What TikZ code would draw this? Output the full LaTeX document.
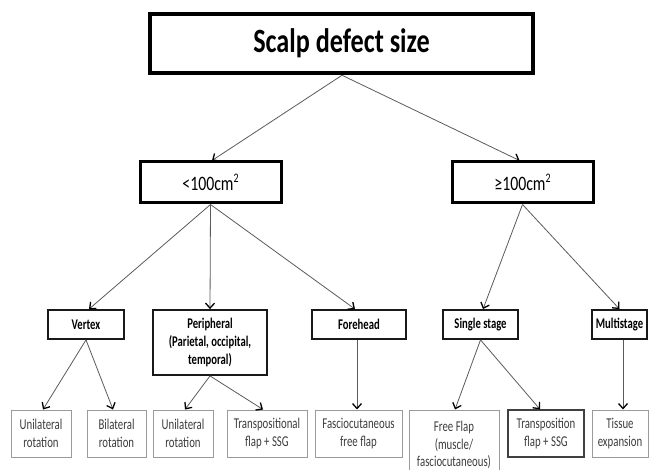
\documentclass[tikz,border=0pt]{standalone}
\usepackage{fontspec}
\usetikzlibrary{arrows.meta}
\newfontfamily\cfa[FakeStretch=0.77]{Carlito}
\newfontfamily\cfb[FakeStretch=0.72]{Carlito}
\definecolor{linegray}{HTML}{5A5A5A}
\definecolor{boxgray}{HTML}{9A9A9A}
\definecolor{txtgray}{HTML}{3C3C3C}
\newcommand{\supx}[1]{\raisebox{0.42em}{\fontsize{13}{13}\selectfont #1}}
\tikzset{
  lvltop/.style={draw=black, line width=4.5pt, minimum width=383pt, minimum height=59pt, inner sep=0pt,
    font=\cfa\bfseries\fontsize{34}{38}\selectfont},
  lvltwo/.style={draw=black, line width=3pt, minimum width=141pt, minimum height=41pt, inner sep=0pt,
    font=\cfa\fontsize{20.5}{24}\selectfont},
  lvlthree/.style={draw=black!90, line width=1.8pt, minimum height=29pt, inner sep=0pt, align=center,
    font=\cfb\bfseries\fontsize{14.8}{18}\selectfont},
  leafbox/.style={draw=boxgray, line width=1pt, minimum height=47pt, inner sep=0pt, align=center,
    text=txtgray, font=\cfb\fontsize{15}{17.5}\selectfont},
  conn/.style={draw=linegray, line width=0.8pt, -{Straight Barb[length=5pt,width=9pt,line width=1.3pt,color=black]}},
}
\begin{document}
\begin{tikzpicture}[x=1pt,y=-1pt]
\useasboundingbox (0,0) rectangle (652,470);
\clip (0,0) rectangle (652,470);
% nodes
\node[lvltop] (top) at (341.5,43.5) {Scalp defect size};
\node[lvltwo] (lt) at (210.5,182.5) {<100cm\supx{2}};
\node[lvltwo] (ge) at (522.5,182.5) {≥100cm\supx{2}};
\node[lvlthree, minimum width=76pt] (vertex) at (86,324.5) {Vertex};
\node[lvlthree, minimum width=114pt, minimum height=65pt] (periph) at (210,342.5) {Peripheral\\(Parietal, occipital,\\temporal)};
\node[lvlthree, minimum width=94pt] (forehead) at (359,324.5) {Forehead};
\node[lvlthree, minimum width=75pt] (single) at (480.5,324.5) {Single stage};
\node[lvlthree, minimum width=55pt] (multi) at (619.5,324.5) {Multistage};
\node[leafbox, minimum width=60pt] (b1) at (41,433.5) {Unilateral\\rotation};
\node[leafbox, minimum width=59pt] (b2) at (116.5,433.5) {Bilateral\\rotation};
\node[leafbox, minimum width=60pt] (b3) at (183,433.5) {Unilateral\\rotation};
\node[leafbox, minimum width=80pt] (b4) at (267,433.5) {Transpositional\\flap + SSG};
\node[leafbox, minimum width=87pt] (b5) at (358.5,433.5) {Fasciocutaneous\\free flap};
\node[leafbox, minimum width=90pt, minimum height=70pt] (b6) at (454,445) {Free Flap\\(muscle/\\fasciocutaneous)};
\node[leafbox, draw=black!75, line width=1.3pt, minimum width=76pt] (b7) at (546,433.5) {Transposition\\flap + SSG};
\node[leafbox, minimum width=56pt] (b8) at (620,433.5) {Tissue\\expansion};
% connectors
\coordinate (topfoot) at ([xshift=0.5pt]top.south);
\draw[conn] (topfoot) -- ([xshift=1.5pt]lt.north);
\draw[conn] (topfoot) -- ([xshift=-3pt]ge.north);
\draw[conn] (lt.south) -- ([xshift=3pt]vertex.north);
\draw[conn] (lt.south) -- (periph.north);
\draw[conn] (lt.south) -- ([xshift=-4pt]forehead.north);
\draw[conn] (ge.south) -- ([xshift=2.5pt]single.north);
\draw[conn] (ge.south) -- (multi.north);
\draw[conn] (vertex.south) -- ([xshift=2pt]b1.north);
\draw[conn] (vertex.south) -- ([xshift=-3.5pt]b2.north);
\draw[conn] (periph.south) -- ([xshift=2pt]b3.north);
\draw[conn] (periph.south) -- ([xshift=-4pt]b4.north);
\draw[conn] ([xshift=-2pt]forehead.south) -- ([xshift=-1.5pt]b5.north);
\draw[conn] (single.south) -- ([xshift=1pt]b6.north);
\draw[conn] (single.south) -- ([xshift=-6pt]b7.north);
\draw[conn] ([xshift=3.5pt]multi.south) -- ([xshift=3pt]b8.north);
\end{tikzpicture}
\end{document}
